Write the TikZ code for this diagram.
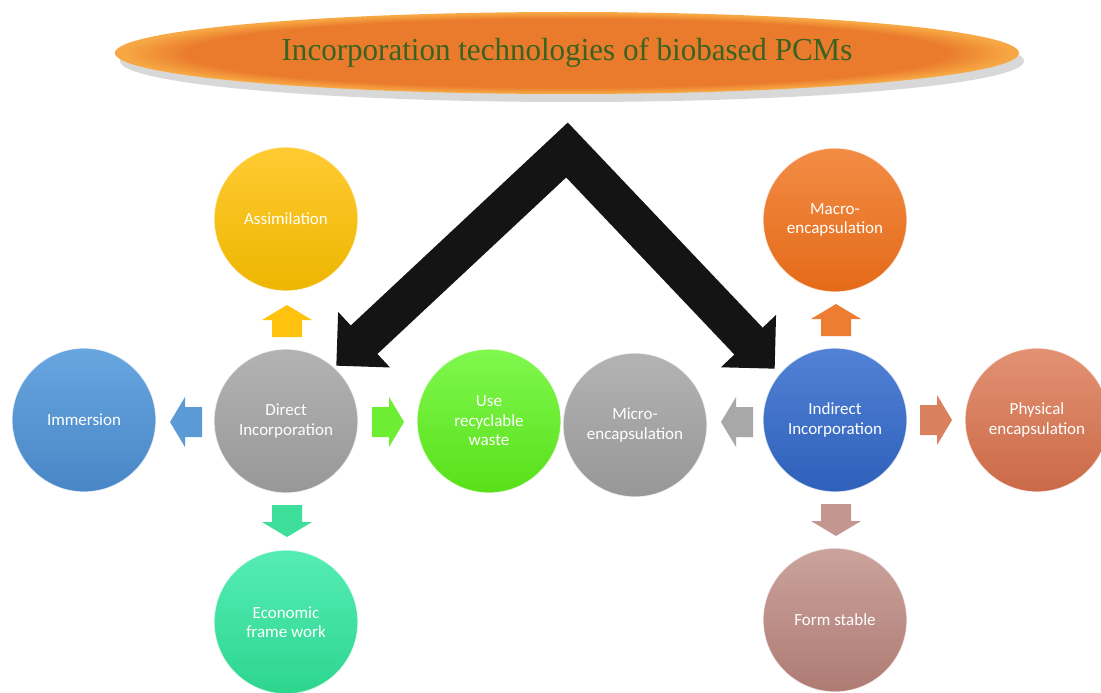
\documentclass[tikz,border=0pt]{standalone}
\usepackage{fontspec}
\setmainfont{Carlito}
\newfontfamily\titlefont{Liberation Serif}
\usetikzlibrary{calc,shadows,shapes.geometric}
\definecolor{tOr}{HTML}{EA7B2C}
\definecolor{tLt}{HTML}{F7A844}
\definecolor{titleGreen}{HTML}{3A6220}
\definecolor{yelT}{HTML}{FFCB33}\definecolor{yelB}{HTML}{EDB600}
\definecolor{bluT}{HTML}{68A6E0}\definecolor{bluB}{HTML}{4886C6}
\definecolor{grT}{HTML}{B3B3B3}\definecolor{grB}{HTML}{979797}
\definecolor{tealT}{HTML}{55EDB5}\definecolor{tealB}{HTML}{2DD58E}
\definecolor{grnT}{HTML}{80F84E}\definecolor{grnB}{HTML}{58E019}
\definecolor{indT}{HTML}{5182D6}\definecolor{indB}{HTML}{2F60BA}
\definecolor{orT}{HTML}{F28C45}\definecolor{orB}{HTML}{E46A18}
\definecolor{phT}{HTML}{E29273}\definecolor{phB}{HTML}{CB6947}
\definecolor{fsT}{HTML}{CBA39D}\definecolor{fsB}{HTML}{AE7B73}
\definecolor{aYel}{HTML}{FFC20E}
\definecolor{aBlu}{HTML}{5B9BD5}
\definecolor{aGrn}{HTML}{6EEE32}
\definecolor{aTeal}{HTML}{3EDE9B}
\definecolor{aOr}{HTML}{ED7D31}
\definecolor{aGr}{HTML}{A8A8A8}
\definecolor{aPh}{HTML}{D9805E}
\definecolor{aFs}{HTML}{C49690}
\pgfdeclareradialshading{titleglow}{\pgfpoint{0bp}{0bp}}{color(0bp)=(tOr); color(21bp)=(tOr); color(24.6bp)=(tLt); color(25bp)=(tLt); color(50bp)=(white)}
\tikzset{
  bub/.style 2 args={circle, minimum size=144pt, inner sep=0pt, align=center,
    text=white, font=\fontsize{17}{19.5}\selectfont,
    shading=axis, top color=#1, bottom color=#2,
    draw=white, draw opacity=0.75, line width=1.2pt},
  pics/barrow/.style={code={\fill[#1] (-16,-15) -- (1,-15) -- (1,-25) -- (16,0) -- (1,25) -- (1,15) -- (-16,15) -- cycle;}},
}
\begin{document}
\begin{tikzpicture}[x=1pt,y=-1pt]
\useasboundingbox[fill=white] (0,0) rectangle (1101,693);
% title
\node[ellipse, minimum width=904pt, minimum height=82pt, shading=titleglow,
  drop shadow={shadow xshift=5pt, shadow yshift=-8pt, opacity=0.3, fill=gray},
  font=\titlefont\fontsize{32}{36}\selectfont, text=titleGreen] (title) at (567,53)
  {\scalebox{0.97}[1]{Incorporation technologies of biobased PCMs}};
% bubbles
\node[bub={yelT}{yelB}] (assim) at (286,219) {Assimilation};
\node[bub={bluT}{bluB}] (immer) at (84,420) {Immersion};
\node[bub={grT}{grB}] (direct) at (286,421) {Direct\\Incorporation};
\node[bub={tealT}{tealB}] (econ) at (286,622) {Economic\\frame work};
\node[bub={grnT}{grnB}] (waste) at (489,421) {Use\\recyclable\\waste};
\node[bub={grT}{grB}] (micro) at (635,425) {Micro-\\encapsulation};
\node[bub={indT}{indB}] (indirect) at (835,420) {Indirect\\Incorporation};
\node[bub={orT}{orB}] (macro) at (835,220) {Macro-\\encapsulation};
\node[bub={phT}{phB}] (phys) at (1037,420) {Physical\\encapsulation};
\node[bub={fsT}{fsB}] (form) at (835,620) {Form stable};
% small block arrows
\pic[rotate=90] at (287,321) {barrow=aYel};
\pic[rotate=180] at (186,422) {barrow=aBlu};
\pic at (388,422) {barrow=aGrn};
\pic[rotate=-90] at (287,521) {barrow=aTeal};
\pic[rotate=90] at (836,320) {barrow=aOr};
\pic[rotate=180] at (737,422) {barrow=aGr};
\pic at (936,420) {barrow=aPh};
\pic[rotate=-90] at (836,520) {barrow=aFs};
% black chevron arrow
\coordinate (apex) at (567,150);
\coordinate (tipL) at ($(direct.north east)+(-1,-4)$);
\coordinate (tipR) at ($(indirect.north west)+(-9,0)$);
\coordinate (bL) at ($(tipL)!38pt!(apex)$);
\coordinate (bR) at ($(tipR)!38pt!(apex)$);
\draw[line width=39pt, line join=miter, color=black!92] ($(tipL)!34pt!(apex)$) -- (apex) -- ($(tipR)!34pt!(apex)$);
\fill[black!92] (tipL) -- ($(bL)!38pt!90:(apex)$) -- ($(bL)!38pt!-90:(apex)$) -- cycle;
\fill[black!92] (tipR) -- ($(bR)!38pt!90:(apex)$) -- ($(bR)!38pt!-90:(apex)$) -- cycle;
\end{tikzpicture}
\end{document}
